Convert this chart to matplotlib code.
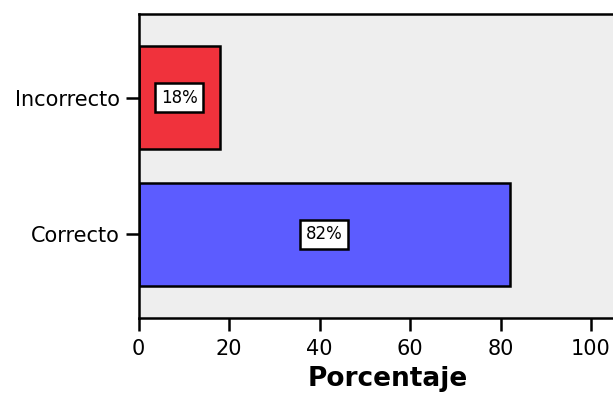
import matplotlib
matplotlib.use("Agg")
import matplotlib.pyplot as plt

categories = ["Correcto", "Incorrecto"]
values = [82, 18]
labels = ["82%", "18%"]
colors = ["#5C5CFF", "#F0323C"]
xticks = [0, 20, 40, 60, 80, 100]

plt.rcParams['font.family'] = ['DejaVu Sans']

W, H = 613, 396
fig = plt.figure(figsize=(W / 100, H / 100), dpi=100)
left = 138.5 / W
bottom = (H - 317.5) / H
height = 303.5 / H
xmax = 110
width = (xmax * 4.525) / W
ax = fig.add_axes([left, bottom, width, height])
ax.set_facecolor("#EEEEEE")

ypos = list(range(len(categories)))
ax.barh(ypos, values, height=0.75, color=colors, edgecolor="black", linewidth=1.8, zorder=2)
for y, v, lab in zip(ypos, values, labels):
    ax.text(v / 2, y, lab, ha="center", va="center", fontsize=12, zorder=3,
            bbox=dict(boxstyle="square,pad=0.35", facecolor="white", edgecolor="black", linewidth=1.8))

ax.set_xlim(0, xmax)
ax.set_ylim(-0.607, 1.61)
ax.set_xticks(xticks)
ax.set_xticklabels([str(t) for t in xticks])
ax.set_yticks(ypos)
ax.set_yticklabels(categories)
ax.tick_params(axis="both", length=9.5, width=1.8, labelsize=15, color="black")
ax.tick_params(axis="x", pad=6)
ax.tick_params(axis="y", pad=4)
for s in ax.spines.values():
    s.set_linewidth(1.8)
ax.set_xlabel("Porcentaje", fontsize=19, fontweight="bold", labelpad=5)

fig.savefig("out.png", dpi=100)
